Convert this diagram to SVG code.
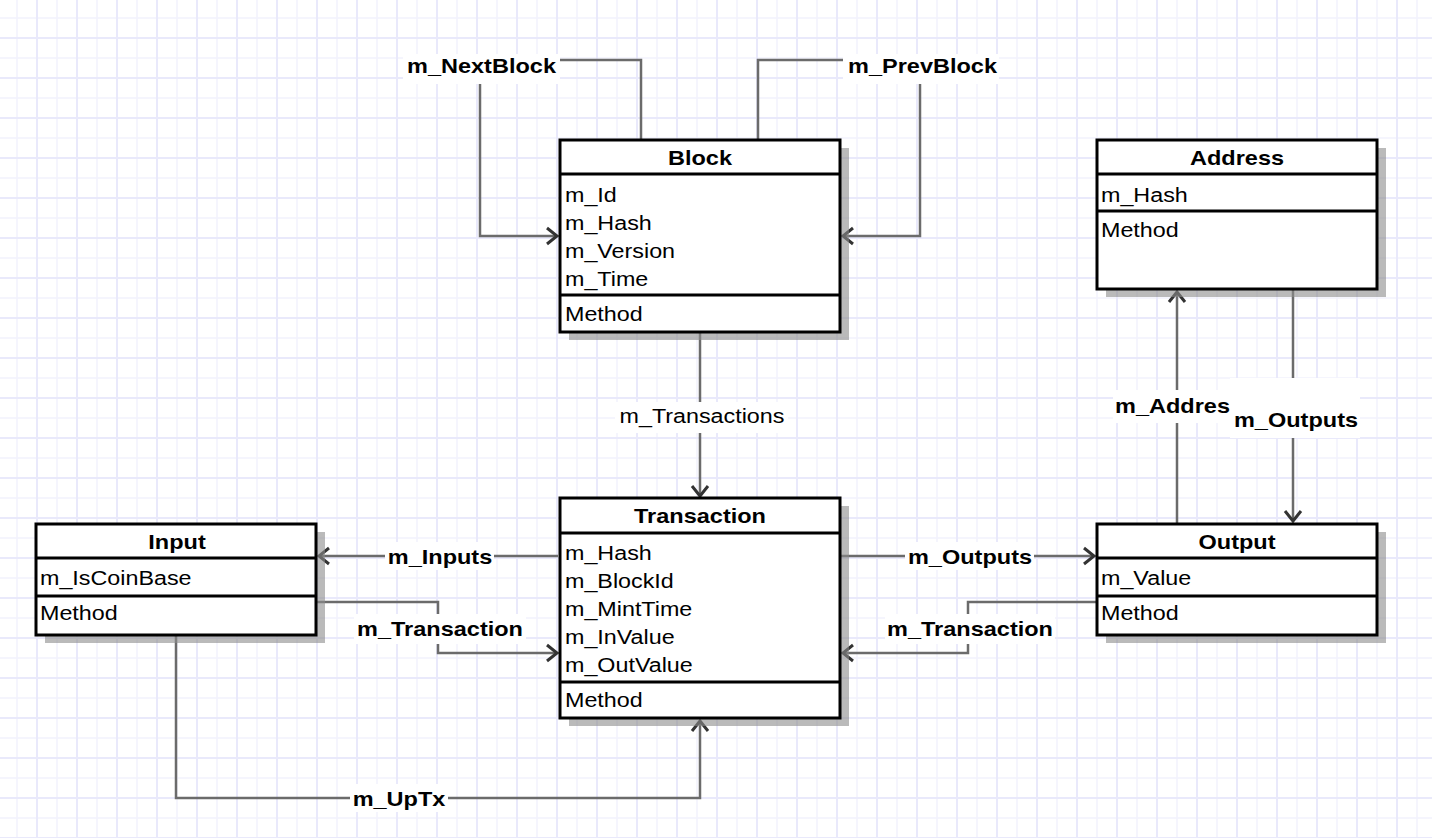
<svg xmlns="http://www.w3.org/2000/svg" width="1432" height="838" viewBox="0 0 1432 838">
<style>
.t{font-family:"Liberation Sans",Arial,sans-serif;font-size:21px;fill:#000}
.b{font-weight:bold}
.m{text-anchor:middle}
.box{fill:#fff;stroke:#000;stroke-width:3}
.sep{stroke:#000;stroke-width:3}
.sh{fill:#8c8c8c;opacity:0.6}
.c{fill:none;stroke:#6b6b6b;stroke-width:2.5;marker-end:url(#arr)}
.lb{fill:#fff}
</style>
<defs>
<pattern id="grid" patternUnits="userSpaceOnUse" x="7" y="8" width="40" height="40">
<rect x="9.25" y="0" width="1.5" height="40" fill="#f2f2fd"/>
<rect x="0" y="9.25" width="40" height="1.5" fill="#f2f2fd"/>
<rect x="29" y="0" width="2" height="40" fill="#e9e9fb"/>
<rect x="0" y="29" width="40" height="2" fill="#e9e9fb"/>
</pattern>
<marker id="arr" markerUnits="userSpaceOnUse" markerWidth="24" markerHeight="24" refX="0" refY="0" viewBox="-12 -12 24 24" orient="auto" overflow="visible">
<path d="M-10,-8 L0,0 L-10,8" fill="none" stroke="#333" stroke-width="3"/>
</marker>
</defs>
<rect width="1432" height="838" fill="#fff"/>
<rect width="1432" height="838" fill="url(#grid)"/>
<g id="connectors">
<path class="c" d="M641,140 V60 H480 V236 H557"/>
<path class="c" d="M758,140 V60 H920 V236 H843"/>
<path class="c" d="M700,332 V496"/>
<path class="c" d="M558,556 H319"/>
<path class="c" d="M316,602 H438 V653 H557"/>
<path class="c" d="M176,635 V798 H700 V721"/>
<path class="c" d="M840,556 H1094"/>
<path class="c" d="M1097,602 H968 V653 H843"/>
<path class="c" d="M1177,524 V292"/>
<path class="c" d="M1293,289 V521"/>
</g>
<g id="labels">
<rect class="lb" x="403" y="54" width="157" height="30"/>
<text class="t b m" transform="translate(481.5 73) scale(1.12 1)">m_NextBlock</text>
<rect class="lb" x="843" y="54" width="156" height="30"/>
<text class="t b m" transform="translate(922.5 73) scale(1.12 1)">m_PrevBlock</text>
<rect class="lb" x="615" y="402" width="173" height="31"/>
<text class="t m" transform="translate(702 423) scale(1.11 1)">m_Transactions</text>
<rect class="lb" x="385" y="542" width="109" height="28"/>
<text class="t b m" transform="translate(440 564) scale(1.12 1)">m_Inputs</text>
<rect class="lb" x="354" y="614" width="172" height="30"/>
<text class="t b m" transform="translate(440 636) scale(1.12 1)">m_Transaction</text>
<rect class="lb" x="350" y="784" width="98" height="28"/>
<text class="t b m" transform="translate(399 805.5) scale(1.12 1)">m_UpTx</text>
<rect class="lb" x="905" y="542" width="129" height="28"/>
<text class="t b m" transform="translate(970 564) scale(1.12 1)">m_Outputs</text>
<rect class="lb" x="885" y="614" width="170" height="30"/>
<text class="t b m" transform="translate(970 636) scale(1.12 1)">m_Transaction</text>
<rect class="lb" x="1113" y="390" width="119" height="33"/>
<text class="t b m" transform="translate(1172.5 413) scale(1.12 1)">m_Addres</text>
<rect class="lb" x="1230" y="378" width="130" height="60"/>
<text class="t b m" transform="translate(1296 427) scale(1.12 1)">m_Outputs</text>
</g>
<g id="block">
<rect class="sh" x="569" y="148" width="280" height="192"/>
<rect class="box" x="560" y="140" width="280" height="192"/>
<line class="sep" x1="560" y1="174" x2="840" y2="174"/>
<line class="sep" x1="560" y1="295" x2="840" y2="295"/>
<text class="t b m" transform="translate(700 165) scale(1.12 1)">Block</text>
<text class="t" transform="translate(565 202) scale(1.11 1)">m_Id</text>
<text class="t" transform="translate(565 230) scale(1.11 1)">m_Hash</text>
<text class="t" transform="translate(565 258) scale(1.11 1)">m_Version</text>
<text class="t" transform="translate(565 286) scale(1.11 1)">m_Time</text>
<text class="t" transform="translate(565 321) scale(1.11 1)">Method</text>
</g>
<g id="address">
<rect class="sh" x="1106" y="148" width="280" height="149"/>
<rect class="box" x="1097" y="140" width="280" height="149"/>
<line class="sep" x1="1097" y1="174" x2="1377" y2="174"/>
<line class="sep" x1="1097" y1="211" x2="1377" y2="211"/>
<text class="t b m" transform="translate(1237 165) scale(1.12 1)">Address</text>
<text class="t" transform="translate(1101 202) scale(1.11 1)">m_Hash</text>
<text class="t" transform="translate(1101 237) scale(1.11 1)">Method</text>
</g>
<g id="transaction">
<rect class="sh" x="569" y="506" width="280" height="220"/>
<rect class="box" x="560" y="498" width="280" height="220"/>
<line class="sep" x1="560" y1="533" x2="840" y2="533"/>
<line class="sep" x1="560" y1="682" x2="840" y2="682"/>
<text class="t b m" transform="translate(700 523) scale(1.12 1)">Transaction</text>
<text class="t" transform="translate(565 560) scale(1.11 1)">m_Hash</text>
<text class="t" transform="translate(565 588) scale(1.11 1)">m_BlockId</text>
<text class="t" transform="translate(565 616) scale(1.11 1)">m_MintTime</text>
<text class="t" transform="translate(565 644) scale(1.11 1)">m_InValue</text>
<text class="t" transform="translate(565 672) scale(1.11 1)">m_OutValue</text>
<text class="t" transform="translate(565 707) scale(1.11 1)">Method</text>
</g>
<g id="input">
<rect class="sh" x="45" y="532" width="280" height="111"/>
<rect class="box" x="36" y="524" width="280" height="111"/>
<line class="sep" x1="36" y1="558" x2="316" y2="558"/>
<line class="sep" x1="36" y1="596" x2="316" y2="596"/>
<text class="t b m" transform="translate(177 549) scale(1.12 1)">Input</text>
<text class="t" transform="translate(40 585) scale(1.11 1)">m_IsCoinBase</text>
<text class="t" transform="translate(40 620) scale(1.11 1)">Method</text>
</g>
<g id="output">
<rect class="sh" x="1106" y="532" width="280" height="111"/>
<rect class="box" x="1097" y="524" width="280" height="111"/>
<line class="sep" x1="1097" y1="558" x2="1377" y2="558"/>
<line class="sep" x1="1097" y1="596" x2="1377" y2="596"/>
<text class="t b m" transform="translate(1237 549) scale(1.12 1)">Output</text>
<text class="t" transform="translate(1101 585) scale(1.11 1)">m_Value</text>
<text class="t" transform="translate(1101 620) scale(1.11 1)">Method</text>
</g>
</svg>
